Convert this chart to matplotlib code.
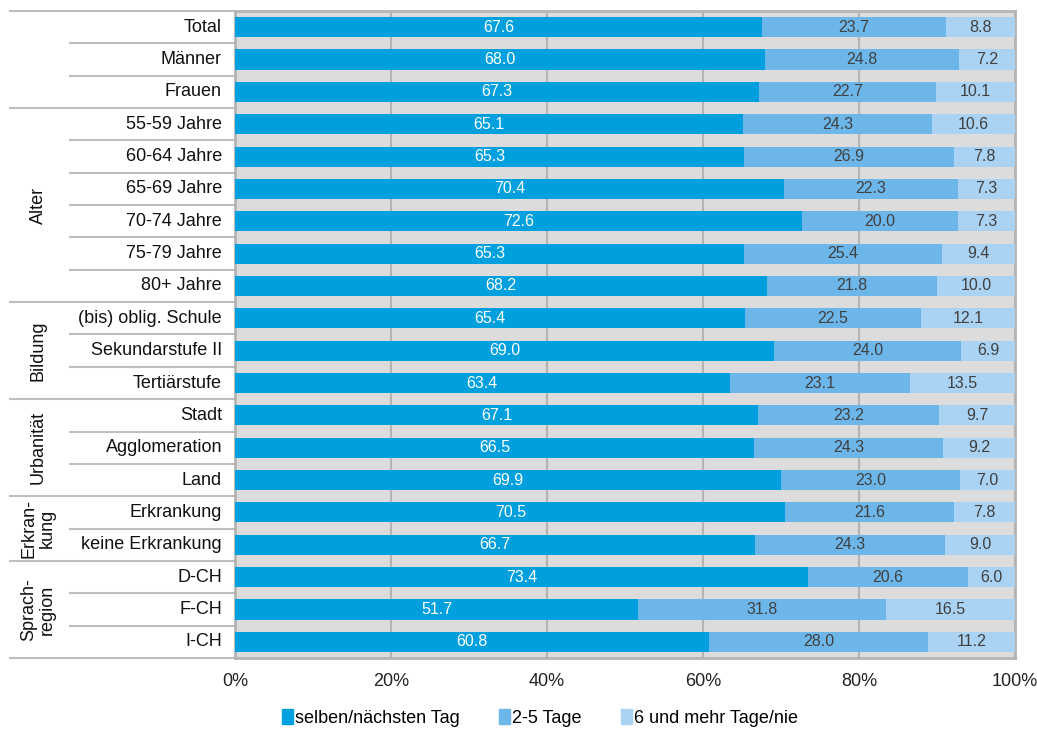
import matplotlib
matplotlib.use("Agg")
import matplotlib.pyplot as plt
import numpy as np
from matplotlib.transforms import blended_transform_factory
from matplotlib.patches import Patch

plt.rcParams['font.family'] = ['Liberation Sans', 'DejaVu Sans']

categories = ["Total", "Männer", "Frauen",
              "55-59 Jahre", "60-64 Jahre", "65-69 Jahre", "70-74 Jahre", "75-79 Jahre", "80+ Jahre",
              "(bis) oblig. Schule", "Sekundarstufe II", "Tertiärstufe",
              "Stadt", "Agglomeration", "Land",
              "Erkrankung", "keine Erkrankung",
              "D-CH", "F-CH", "I-CH"]
same_next_day = [67.6, 68.0, 67.3, 65.1, 65.3, 70.4, 72.6, 65.3, 68.2, 65.4, 69.0, 63.4,
                 67.1, 66.5, 69.9, 70.5, 66.7, 73.4, 51.7, 60.8]
days_2_5 = [23.7, 24.8, 22.7, 24.3, 26.9, 22.3, 20.0, 25.4, 21.8, 22.5, 24.0, 23.1,
            23.2, 24.3, 23.0, 21.6, 24.3, 20.6, 31.8, 28.0]
days_6_plus = [8.8, 7.2, 10.1, 10.6, 7.8, 7.3, 7.3, 9.4, 10.0, 12.1, 6.9, 13.5,
               9.7, 9.2, 7.0, 7.8, 9.0, 6.0, 16.5, 11.2]
series_names = ["selben/nächsten Tag", "2-5 Tage", "6 und mehr Tage/nie"]
groups = [("", 0, 3), ("Alter", 3, 9), ("Bildung", 9, 12), ("Urbanität", 12, 15),
          ("Erkran-\nkung", 15, 17), ("Sprach-\nregion", 17, 20)]
xticks = [0, 20, 40, 60, 80, 100]
xticklabels = ["0%", "20%", "40%", "60%", "80%", "100%"]

colors = ["#00A0DF", "#6DB6EA", "#AAD2F3"]
text_colors = ["white", "#404040", "#404040"]

W, H = 1037, 731
fig = plt.figure(figsize=(W / 100, H / 100), dpi=100)
left_px, right_px, top_px, bot_px = 235, 1015, 11, 658
ax = fig.add_axes([left_px / W, 1 - bot_px / H, (right_px - left_px) / W, (bot_px - top_px) / H])
ax.set_facecolor("#DCDCDC")

n = len(categories)
data = np.array([same_next_day, days_2_5, days_6_plus])
norm = data / data.sum(axis=0) * 100
y = np.arange(n)
left = np.zeros(n)
for i in range(3):
    ax.barh(y, norm[i], left=left, height=0.62, color=colors[i], zorder=3, label=series_names[i])
    for j in range(n):
        ax.text(left[j] + norm[i][j] / 2, y[j], f"{data[i][j]:.1f}", ha="center", va="center",
                color=text_colors[i], fontsize=11.5, zorder=4)
    left += norm[i]

ax.set_xlim(0, 100)
ax.set_ylim(n - 0.5, -0.5)
ax.set_yticks([])
ax.set_xticks(xticks)
ax.set_xticklabels(xticklabels, fontsize=13, color="#222222")
ax.tick_params(axis="x", length=0, pad=11)
ax.grid(axis="x", color="#B4B4B4", linewidth=1.5, zorder=1)
for s in ax.spines.values():
    s.set_color("#B4B4B4")
    s.set_linewidth(2)

# category labels and separators
tr = blended_transform_factory(fig.transFigure, ax.transData)
for j, c in enumerate(categories):
    ax.text(222 / W, j, c, transform=tr, ha="right", va="center", fontsize=13, color="#111111")
group_starts = [g[1] for g in groups]
for b in range(n + 1):
    yy = b - 0.5
    if b in group_starts or b == n:
        x0 = 10 / W
    else:
        x0 = 70 / W
    ax.plot([x0, left_px / W], [yy, yy], transform=tr, color="#BEBEBE", lw=1.5, clip_on=False)
for name, s, e in groups:
    if name:
        ax.text(38 / W, (s + e - 1) / 2, name, transform=tr, rotation=90, ha="center", va="center",
                fontsize=13, color="#111111", linespacing=1.05)

handles = [Patch(color=colors[i]) for i in range(3)]
fig.legend(handles, series_names, loc="center", bbox_to_anchor=(540 / W, 1 - 718 / H), ncol=3,
           frameon=False, fontsize=13, handlelength=0.6, handleheight=0.9, handletextpad=0.1,
           columnspacing=2.2)

fig.savefig("out.png", dpi=100)
